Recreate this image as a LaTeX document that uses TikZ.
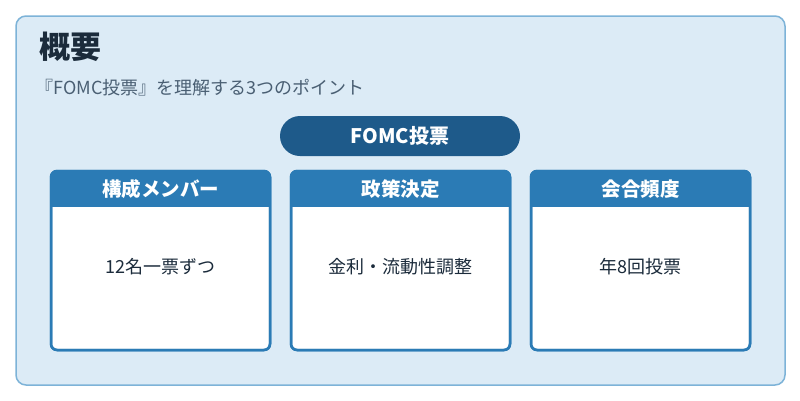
\documentclass[tikz,border=0pt]{standalone}
\usepackage{fontspec}
\newfontfamily\cjk{Noto Sans CJK JP}
\definecolor{bgc}{HTML}{DCEBF6}
\definecolor{bdc}{HTML}{7DB3D8}
\definecolor{pill}{HTML}{1E5A8A}
\definecolor{head}{HTML}{2B7BB5}
\definecolor{ttl}{HTML}{1B2B3B}
\definecolor{sub}{HTML}{4A5F73}
\begin{document}
\begin{tikzpicture}[x=1pt,y=-1pt,
 card/.style={draw=head,line width=2.5pt,fill=white,rounded corners=6pt},
 htext/.style={text=white,font=\cjk\bfseries\fontsize{19.5}{22}\selectfont},
 btext/.style={text=ttl,font=\cjk\fontsize{18}{21}\selectfont}]
\useasboundingbox (0,0) rectangle (800,400);
\fill[white] (0,0) rectangle (800,400);
\draw[fill=bgc,draw=bdc,line width=1.5pt,rounded corners=10pt] (16,16) rectangle (785,385);
\node[anchor=west,text=ttl,font=\cjk\bfseries\fontsize{31}{34}\selectfont] (t) at (36,47) {概要};
\node[anchor=west,text=sub,font=\cjk\fontsize{18}{21}\selectfont] (s) at (32,88) {『FOMC投票』を理解する3つのポイント};
\node[fill=pill,rounded corners=20pt,minimum width=240pt,minimum height=40pt,text=white,font=\cjk\bfseries\fontsize{20}{23}\selectfont] (p) at (400,136) {FOMC投票};
\foreach \x/\h/\b/\n in {51/構成メンバー/12名一票ずつ/a,291/政策決定/金利・流動性調整/b,531/会合頻度/年8回投票/c}{
 \draw[card] (\x,171) rectangle ++(219,179);
 \begin{scope}
 \clip[rounded corners=6pt] (\x,171) rectangle ++(219,179);
 \fill[head] (\x,171) rectangle ++(219,36);
 \end{scope}
 \draw[head,line width=2.5pt,rounded corners=6pt] (\x,171) rectangle ++(219,179);
 \node[htext] (h\n) at (\x+109.5,189) {\h};
 \node[btext] (b\n) at (\x+109.5,267) {\b};
}
\end{tikzpicture}
\end{document}
